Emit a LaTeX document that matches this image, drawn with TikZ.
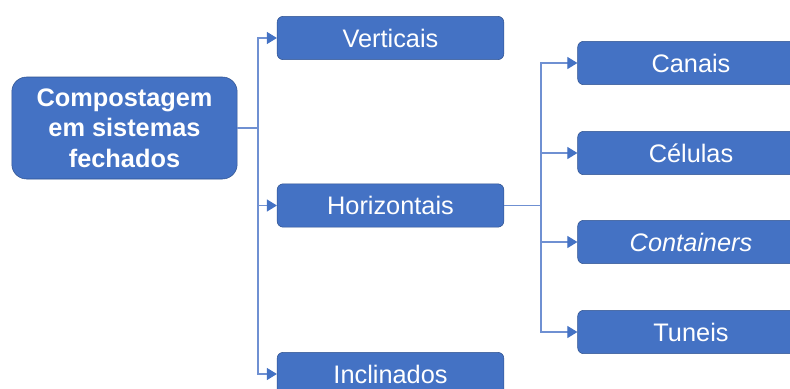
\documentclass[tikz,border=0pt]{standalone}
\usepackage{fontspec}
\setmainfont{Liberation Sans}
\usetikzlibrary{arrows.meta}
\definecolor{boxblue}{HTML}{4472C4}
\definecolor{boxedge}{HTML}{2F528F}
\definecolor{linkblue}{HTML}{6F90D2}

\begin{document}
\begin{tikzpicture}[x = 0.75pt, y = -0.75pt,
	leaf/.style = {draw = boxedge, fill = boxblue, rounded corners = 4.5pt, text = white,
		minimum width = 170pt, minimum height = 32.5pt, inner sep = 0pt,
		font = \fontsize{19}{23}\selectfont},
	rootbox/.style = {leaf, rounded corners = 11pt, minimum width = 169pt, minimum height = 76.5pt,
		align = center, font = \fontsize{19}{23}\selectfont\bfseries},
	link/.style = {draw = linkblue, line width = 0.8pt},
	tip/.style = {-{Triangle[length = 7.5pt, width = 9pt, color = boxblue]}}]
	\clip (0,0) rectangle (790,389);
	% first level
	\node[rootbox] (root) at (124.5,128) {Compostagem\\em sistemas\\fechados};
	\node[leaf] (vert) at (390.5,38) {Verticais};
	\node[leaf] (hor) at (390.5,205.5) {Horizontais};
	\node[leaf] (incl) at (390.5,374) {Inclinados};
	% second level
	\node[leaf] (canais) at (691,63) {Canais};
	\node[leaf] (celulas) at (691,153) {Células};
	\node[leaf] (cont) at (691,242) {\itshape Containers};
	\node[leaf] (tuneis) at (691,332) {Tuneis};
	\coordinate (busA) at (258,128);
	\coordinate (busB) at (541,205.5);
	\draw[link] (root.east) -- (busA);
	\foreach \n in {vert, hor, incl}
		\draw[link, tip] (busA) |- (\n.west);
	\draw[link] (hor.east) -- (busB);
	\foreach \n in {canais, celulas, cont, tuneis}
		\draw[link, tip] (busB) |- (\n.west);
\end{tikzpicture}
\end{document}
